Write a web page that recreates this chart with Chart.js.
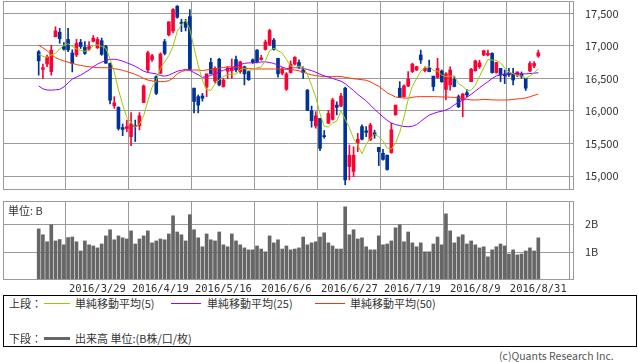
<!DOCTYPE html>
<html><head><meta charset="utf-8">
<script src="https://cdn.jsdelivr.net/npm/chart.js@4.4.1/dist/chart.umd.min.js"></script>
<style>
body{margin:0;background:#fff;width:638px;height:362px;position:relative;overflow:hidden;font-family:"Noto Sans CJK JP",sans-serif;color:#333}
canvas{position:absolute;left:0}
#price{top:0}
#vol{top:195px}
.txt{position:absolute;font-size:11px;white-space:nowrap;line-height:12px}
.legend{position:absolute;left:3px;top:295px;width:634px;height:52px;border:1px solid #000;box-sizing:border-box}
.ln{position:absolute}
</style></head>
<body>
<canvas id="price" width="638" height="191"></canvas>
<canvas id="vol" width="638" height="100"></canvas>
<div class="txt" style="left:8px;top:204px">単位: B</div>
<div class="legend"></div>
<div class="txt" style="left:9px;top:297px">上段：</div>
<div class="ln" style="left:44px;top:303px;width:26px;height:1px;background:#99cc00"></div>
<div class="txt" style="left:75px;top:297px">単純移動平均(5)</div>
<div class="ln" style="left:171px;top:303px;width:30px;height:1px;background:#9900ff"></div>
<div class="txt" style="left:207px;top:297px">単純移動平均(25)</div>
<div class="ln" style="left:315px;top:303px;width:30px;height:1px;background:#ff3300"></div>
<div class="txt" style="left:350px;top:297px">単純移動平均(50)</div>
<div class="txt" style="left:9px;top:332px">下段：</div>
<div class="ln" style="left:44px;top:337px;width:26px;height:3px;background:#666"></div>
<div class="txt" style="left:75px;top:332px">出来高 単位:(B株/口/枚)</div>
<div class="txt" style="left:499px;top:350px;color:#555;font-size:10.5px">(c)Quants Research Inc.</div>
<script>
const dates = ["2016/3/8","2016/3/9","2016/3/10","2016/3/11","2016/3/14","2016/3/15","2016/3/16","2016/3/17","2016/3/18","2016/3/22","2016/3/23","2016/3/24","2016/3/25","2016/3/28","2016/3/29","2016/3/30","2016/3/31",
"2016/4/1","2016/4/4","2016/4/5","2016/4/6","2016/4/7","2016/4/8","2016/4/11","2016/4/12","2016/4/13","2016/4/14","2016/4/15","2016/4/18","2016/4/19","2016/4/20","2016/4/21","2016/4/22","2016/4/25","2016/4/26","2016/4/27","2016/4/28",
"2016/5/2","2016/5/6","2016/5/9","2016/5/10","2016/5/11","2016/5/12","2016/5/13","2016/5/16","2016/5/17","2016/5/18","2016/5/19","2016/5/20","2016/5/23","2016/5/24","2016/5/25","2016/5/26","2016/5/27","2016/5/30","2016/5/31",
"2016/6/1","2016/6/2","2016/6/3","2016/6/6","2016/6/7","2016/6/8","2016/6/9","2016/6/10","2016/6/13","2016/6/14","2016/6/15","2016/6/16","2016/6/17","2016/6/20","2016/6/21","2016/6/22","2016/6/23","2016/6/24","2016/6/27","2016/6/28","2016/6/29","2016/6/30",
"2016/7/1","2016/7/4","2016/7/5","2016/7/6","2016/7/7","2016/7/8","2016/7/11","2016/7/12","2016/7/13","2016/7/14","2016/7/15","2016/7/19","2016/7/20","2016/7/21","2016/7/22","2016/7/25","2016/7/26","2016/7/27","2016/7/28","2016/7/29",
"2016/8/1","2016/8/2","2016/8/3","2016/8/4","2016/8/5","2016/8/8","2016/8/9","2016/8/10","2016/8/12","2016/8/15","2016/8/16","2016/8/17","2016/8/18","2016/8/19","2016/8/22","2016/8/23","2016/8/24","2016/8/25","2016/8/26","2016/8/29","2016/8/30","2016/8/31"];

const tickLabels = ["2016/3/29","2016/4/19","2016/5/16","2016/6/6","2016/6/27","2016/7/19","2016/8/9","2016/8/31"];
const priceTicks = [15000,15500,16000,16500,17000,17500];
const volumeTicks = [1,2];

const open = [16910,16640,16720,16605,17140,17210,16990,17100,16890,16860,
17055,16980,16950,17070,16970,17080,16990,16730,16080,16055,
15745,15730,15605,15775,15770,16130,16630,16790,16530,16580,
17065,17170,17230,17610,17360,17370,17450,16350,16220,16230,
16365,16745,16460,16795,16375,16610,16620,16790,16605,16680,
16605,16785,16935,16790,16945,17020,17090,16810,16580,16335,
16590,16720,16745,16630,16320,16005,15770,15885,15620,15810,
15870,16090,16075,16350,15145,15070,15510,15760,15695,15555,
15665,15440,15350,15320,15360,15940,16350,16220,16385,16605,
16630,16860,16620,16655,16535,16515,16615,16330,16400,16485,
16220,16170,16280,16450,16620,16680,16860,16860,16885,16590,
16655,16565,16585,16565,16550,16565,16500,16615,16690,16845];

const high = [16930,16720,16860,17010,17295,17270,17050,17270,16940,17100,
17100,17065,17065,17160,17130,17120,17010,16735,16220,16065,
15800,15860,15975,15860,15975,16400,16920,16870,16540,16895,
17100,17370,17575,17620,17410,17410,17560,16350,16245,16270,
16570,16810,16680,16810,16500,16680,16800,16845,16765,16690,
16615,16800,16945,16855,17090,17255,17115,16810,16665,16590,
16770,16835,16785,16680,16330,16075,15990,15885,15700,16010,
16195,16140,16270,16365,15475,15450,15655,15785,15760,15810,
15705,15440,15410,15320,15810,16090,16450,16400,16605,16735,
16690,16935,16680,16780,16535,16810,16630,16590,16680,16535,
16245,16270,16330,16655,16780,16780,16935,16935,16895,16745,
16655,16630,16655,16655,16600,16600,16500,16760,16760,16935];

const low = [16550,16500,16680,16550,17140,17040,16935,16910,16600,16835,
16960,16870,16935,17060,16960,16855,16730,16110,16040,15705,
15620,15680,15465,15530,15710,16130,16600,16760,16250,16570,
16860,17155,17200,17425,17220,17230,16630,15970,15970,16150,
16220,16570,16430,16385,16365,16500,16500,16600,16580,16400,
16470,16730,16740,16780,16935,17005,16935,16520,16555,16315,
16580,16705,16655,16500,16005,15750,15735,15390,15580,15810,
15860,15940,16065,14865,14940,14990,15375,15555,15605,15545,
15580,15160,15245,15090,15350,15935,16205,16210,16375,16590,
16620,16730,16600,16600,16310,16500,16440,16170,16320,16370,
16050,15910,16220,16450,16610,16655,16850,16845,16580,16580,
16450,16420,16530,16400,16525,16500,16315,16605,16665,16825];

const close = [16770,16665,16825,16935,17230,17110,16950,16940,16730,17040,
16990,16885,16990,17120,17100,16870,16735,16165,16125,15730,
15715,15760,15800,15760,15925,16385,16895,16850,16270,16875,
16885,17370,17560,17440,17345,17285,16640,16145,16090,16195,
16570,16570,16655,16400,16475,16660,16655,16630,16755,16570,
16480,16750,16760,16815,17060,17235,16945,16570,16645,16570,
16720,16825,16680,16590,16010,15850,15925,15425,15605,15960,
16170,16055,16230,14940,15320,15320,15565,15565,15670,15785,
15630,15375,15255,15100,15710,16090,16210,16385,16490,16720,
16680,16785,16655,16605,16375,16655,16450,16570,16630,16375,
16065,16260,16245,16640,16770,16740,16925,16885,16590,16745,
16550,16540,16555,16475,16600,16530,16350,16730,16730,16895];

const volume = [1.83,1.62,1.37,1.98,1.40,1.45,1.26,1.52,1.54,1.37,
1.04,1.40,1.26,1.22,1.15,1.29,1.58,1.80,1.44,1.58,
1.51,1.47,1.76,1.29,1.47,1.58,1.76,1.33,1.40,1.47,
1.44,1.65,2.30,1.72,1.62,1.40,2.34,1.80,1.51,1.19,
1.65,1.44,1.40,1.72,1.26,1.19,1.65,1.40,1.26,1.15,
1.08,1.08,1.22,1.11,1.01,1.58,1.33,1.44,1.11,1.22,
1.08,1.11,1.15,1.54,1.26,1.33,1.37,1.54,1.69,1.33,
1.22,1.11,1.11,2.62,1.62,1.80,1.47,1.51,1.19,1.08,
1.08,1.58,1.26,1.29,1.40,1.87,1.98,1.37,1.72,1.33,
1.19,1.33,1.01,1.01,1.29,1.54,1.26,2.37,1.76,1.33,
1.54,1.62,1.29,1.40,1.26,1.15,1.19,0.83,1.08,1.19,
1.29,1.22,0.93,1.08,0.90,0.93,1.04,1.15,1.04,1.51];

const ma5 = [16870,16840,16825,16860,16885,16953,17010,17033,16992,16954,
16930,16917,16927,17005,17017,16993,16963,16798,16599,16325,
16094,15899,15826,15753,15792,15926,16153,16363,16465,16655,
16755,16850,16992,17226,17320,17400,17254,16971,16701,16471,
16328,16314,16416,16478,16534,16552,16569,16564,16635,16654,
16618,16637,16663,16675,16773,16924,16963,16925,16891,16793,
16690,16666,16688,16677,16565,16391,16211,15960,15763,15753,
15817,15843,16004,15871,15743,15573,15475,15342,15488,15581,
15643,15605,15543,15429,15414,15506,15673,15899,16177,16379,
16497,16612,16666,16689,16620,16615,16548,16531,16536,16536,
16418,16380,16315,16317,16396,16531,16664,16792,16782,16777,
16739,16662,16596,16573,16544,16540,16502,16537,16588,16647];

const ma25 = [16383,16340,16322,16320,16325,16332,16370,16430,16490,16520,
16550,16590,16630,16680,16720,16750,16780,16793,16795,16785,
16765,16740,16715,16685,16650,16610,16590,16580,16570,16545,
16535,16550,16580,16610,16625,16639,16625,16590,16555,16516,
16528,16545,16570,16600,16625,16645,16665,16688,16712,16732,
16738,16742,16746,16752,16755,16745,16730,16705,16675,16650,
16660,16665,16662,16655,16638,16620,16595,16565,16540,16520,
16501,16478,16458,16420,16365,16315,16255,16205,16155,16090,
16025,15968,15910,15855,15815,15790,15775,15762,15758,15765,
15790,15840,15890,15935,15960,15982,15995,16015,16045,16095,
16130,16165,16210,16255,16305,16355,16405,16450,16500,16537,
16555,16568,16573,16578,16575,16570,16570,16575,16580,16588];

const ma50 = [17010,16970,16925,16870,16820,16790,16768,16750,16735,16712,
16700,16688,16680,16672,16665,16665,16665,16660,16650,16640,
16625,16605,16585,16562,16535,16500,16475,16462,16452,16450,
16452,16465,16505,16570,16605,16625,16629,16629,16629,16622,
16630,16638,16645,16655,16668,16678,16678,16672,16666,16660,
16652,16646,16645,16645,16645,16645,16645,16645,16644,16640,
16635,16628,16618,16595,16572,16555,16542,16535,16530,16528,
16527,16532,16530,16516,16505,16495,16488,16480,16472,16448,
16410,16380,16330,16280,16245,16215,16205,16198,16196,16210,
16219,16220,16220,16220,16220,16218,16216,16214,16212,16208,
16200,16185,16178,16170,16168,16172,16178,16175,16170,16168,
16168,16168,16170,16178,16184,16190,16200,16218,16240,16260];

Chart.defaults.font.family = '"Noto Sans CJK JP", sans-serif';
Chart.defaults.font.size = 11;
Chart.defaults.color = '#333';

const N = dates.length;
const tickPos = tickLabels.map(l => dates.indexOf(l));
const RED = '#ff0033', BLUE = '#003399', GRID = '#9a9a9a';
const candleCol = close.map((c, i) => c >= open[i] ? RED : BLUE);

const frame = {id:'frame', afterDraw(c){
  const a = c.chartArea, x = c.ctx; x.save(); x.strokeStyle = GRID; x.lineWidth = 1;
  x.strokeRect(Math.round(a.left)+0.5, Math.round(a.top)+0.5, Math.round(a.right-a.left)-1, Math.round(a.bottom-a.top)-1); x.restore();
}};

function noPad(s){ s.paddingLeft = 0; s.paddingRight = 0; s.paddingTop = 0; s.paddingBottom = 0; }

function xScale(showLabels){
  return {
    type:'linear', min:-8.5, max:N-1+8.5, offset:false, bounds:'ticks',
    afterBuildTicks: s => { s.ticks = tickPos.map(v => ({value:v})); },
    ticks:{display:showLabels, autoSkip:false, maxRotation:0, padding:3, color:'#333',
           font:{family:'"DejaVu Sans Mono", monospace', size:10.5}, callback:v => dates[v]},
    grid:{color:GRID, drawTicks:false, lineWidth:1},
    border:{display:false},
    afterFit: s => { s.height = showLabels ? 15 : 0; noPad(s); }
  };
}

function yScale(min, max, ticksArr, fmt){
  return {position:'right', min:min, max:max,
    afterBuildTicks: s => { s.ticks = ticksArr.map(v => ({value:v})); },
    ticks:{padding:11, color:'#333', font:{size:11}, callback:fmt},
    grid:{color:GRID, drawTicks:false}, border:{display:false},
    afterFit: s => { s.width = 64; noPad(s); }};
}

new Chart(document.getElementById('price'), {
  type:'bar',
  data:{datasets:[
    {type:'line', data:ma5.map((v,i)=>({x:i,y:v})), borderColor:'#99cc00', borderWidth:1, pointRadius:0, tension:0},
    {type:'line', data:ma25.map((v,i)=>({x:i,y:v})), borderColor:'#9900ff', borderWidth:1, pointRadius:0, tension:0},
    {type:'line', data:ma50.map((v,i)=>({x:i,y:v})), borderColor:'#ff3300', borderWidth:1, pointRadius:0, tension:0},
    {type:'bar', data:open.map((o,i)=>({x:i,y:[o,close[i]]})), backgroundColor:candleCol, barThickness:3, grouped:false, minBarLength:1},
    {type:'bar', data:low.map((l,i)=>({x:i,y:[l,high[i]]})), backgroundColor:candleCol, barThickness:1, grouped:false}
  ]},
  options:{
    responsive:false, animation:false, devicePixelRatio:1,
    layout:{padding:{left:3,top:1,right:0,bottom:1}},
    plugins:{legend:{display:false}, tooltip:{enabled:false}},
    scales:{
      x: xScale(false),
      y: yScale(14785, 17690, priceTicks, v => v.toLocaleString('en-US'))
    }
  },
  plugins:[frame]
});

new Chart(document.getElementById('vol'), {
  type:'bar',
  data:{datasets:[
    {data:volume.map((v,i)=>({x:i,y:v})), backgroundColor:'#666666', barThickness:3}
  ]},
  options:{
    responsive:false, animation:false, devicePixelRatio:1,
    layout:{padding:{left:3,top:6,right:0,bottom:0}},
    plugins:{legend:{display:false}, tooltip:{enabled:false}},
    scales:{
      x: xScale(true),
      y: yScale(0, 2.83, volumeTicks, v => v + 'B')
    }
  },
  plugins:[frame]
});
</script>
</body></html>
